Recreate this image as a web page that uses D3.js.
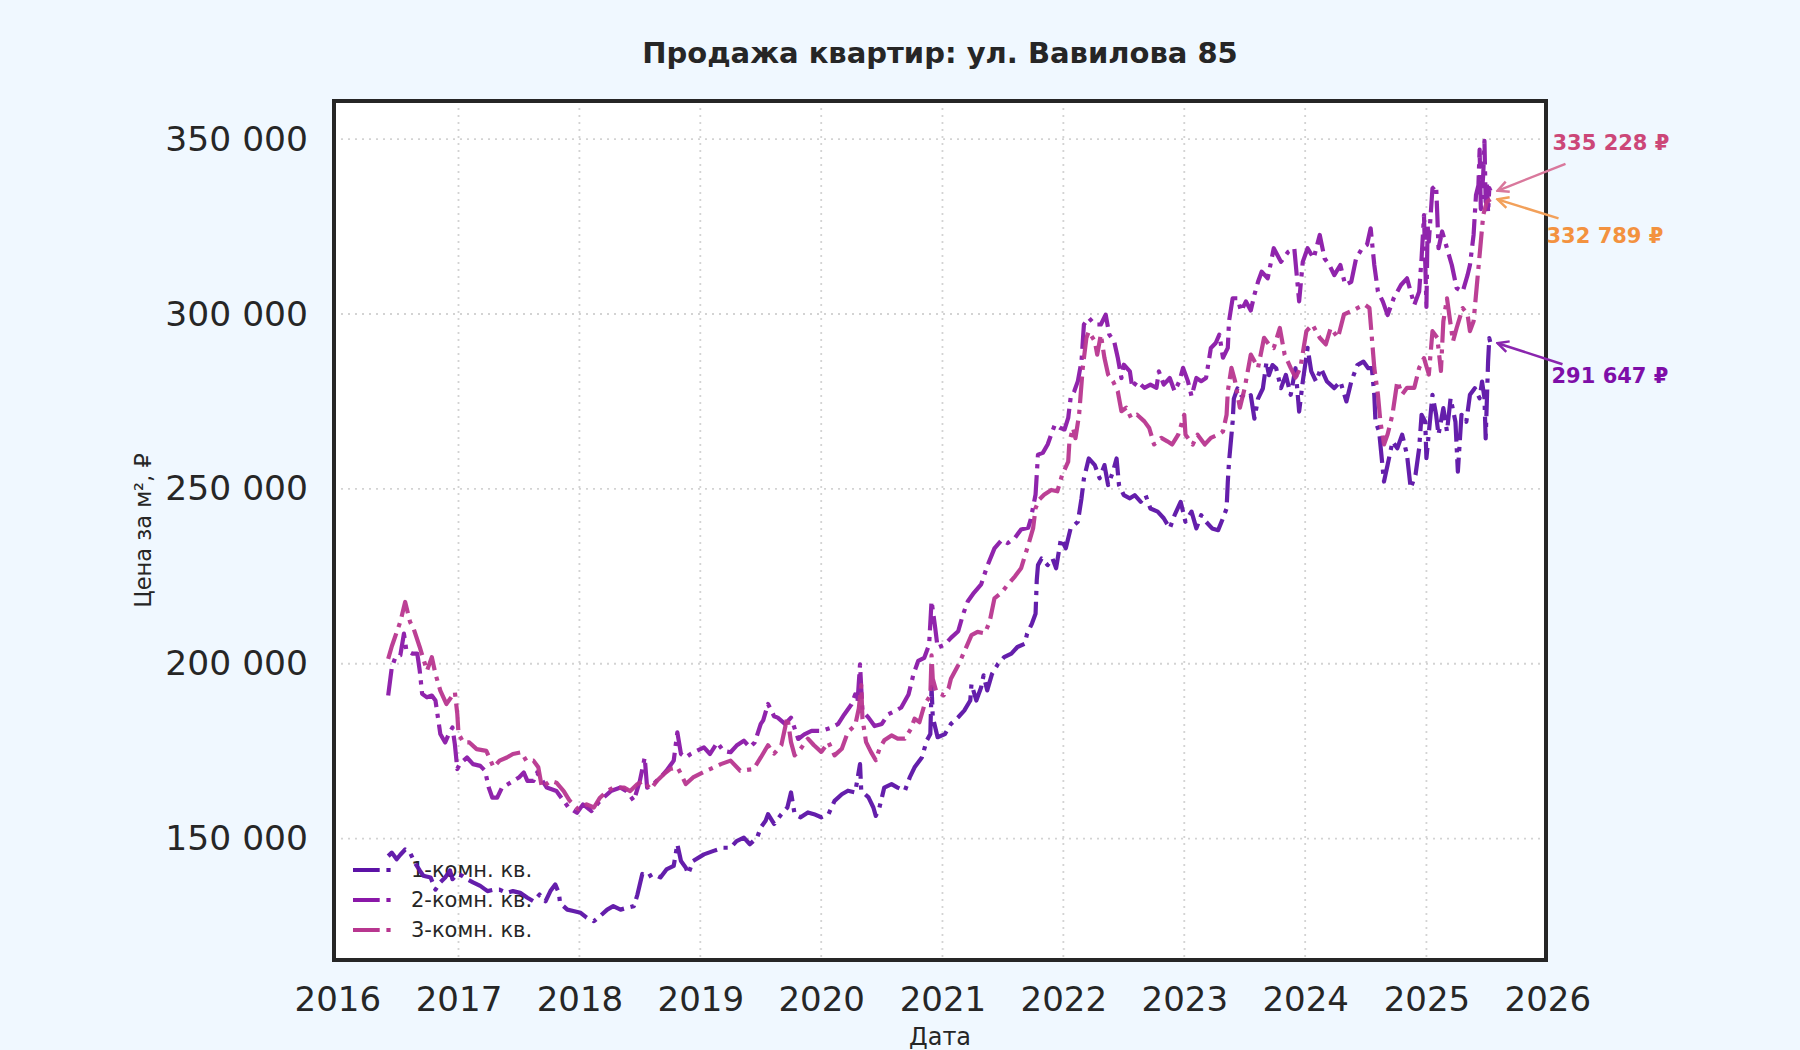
<!DOCTYPE html>
<html>
<head>
<meta charset="utf-8">
<script src="https://cdn.jsdelivr.net/npm/d3@7"></script>
<style>
  html, body { margin: 0; padding: 0; background: #f0f8ff; }
  text { font-family: "DejaVu Sans", sans-serif; }
</style>
</head>
<body>
<script>

// [decimal year, price per m2]
var room1 = [
  [2016.42,145000],[2016.45,146000],[2016.49,144100],[2016.52,145400],[2016.56,146900],[2016.60,146000],[2016.64,143100],
  [2016.68,140900],[2016.71,139400],[2016.77,138900],[2016.81,135400],[2016.85,137500],[2016.89,138900],[2016.93,140900],
  [2016.95,138400],[2016.99,139900],[2017.03,139400],[2017.07,138400],[2017.12,137500],[2017.18,136500],[2017.24,135000],
  [2017.29,135400],[2017.34,135400],[2017.40,134500],[2017.45,135000],[2017.51,134500],[2017.57,133100],[2017.62,132100],
  [2017.67,134000],[2017.72,132100],[2017.76,135000],[2017.80,136900],[2017.83,134500],[2017.84,131600],[2017.90,129700],
  [2017.95,129300],[2018.01,128800],[2018.06,127400],[2018.12,126400],[2018.17,127800],[2018.23,129700],[2018.28,130700],
  [2018.34,129700],[2018.39,130200],[2018.45,130700],[2018.48,134000],[2018.52,139900],[2018.56,138900],[2018.61,139900],
  [2018.67,138900],[2018.72,141200],[2018.78,142200],[2018.81,148400],[2018.84,143600],[2018.88,141700],[2018.90,139900],
  [2018.94,143600],[2019.03,145500],[2019.11,146500],[2019.19,147400],[2019.25,147400],[2019.30,149300],[2019.36,150300],
  [2019.41,148400],[2019.47,150300],[2019.50,153200],[2019.54,155100],[2019.56,157000],[2019.61,154200],[2019.67,157000],
  [2019.72,158900],[2019.75,163200],[2019.78,157000],[2019.83,156100],[2019.89,157500],[2019.94,157000],[2020.00,156100],
  [2020.06,157000],[2020.11,160800],[2020.17,162700],[2020.22,163700],[2020.28,163200],[2020.32,171300],[2020.33,163700],
  [2020.39,161800],[2020.43,158900],[2020.45,156500],[2020.48,158900],[2020.52,164600],[2020.58,165600],[2020.63,164600],
  [2020.69,163700],[2020.73,167500],[2020.77,170400],[2020.83,173200],[2020.87,178000],[2020.90,179900],[2020.91,193300],
  [2020.92,184700],[2020.96,179000],[2021.02,179900],[2021.07,182800],[2021.13,184700],[2021.18,186600],[2021.23,189500],
  [2021.24,194200],[2021.28,189500],[2021.32,193300],[2021.34,196700],[2021.37,192400],[2021.41,197100],[2021.46,200000],
  [2021.51,201900],[2021.57,202900],[2021.62,204800],[2021.68,205700],[2021.70,208600],[2021.74,211500],[2021.77,214300],
  [2021.78,223900],[2021.79,228200],[2021.82,230100],[2021.87,228200],[2021.91,230100],[2021.94,227300],[2021.98,235800],
  [2022.02,233000],[2022.06,238700],[2022.12,240600],[2022.15,247300],[2022.17,253000],[2022.21,258700],[2022.26,256800],
  [2022.30,253000],[2022.34,256800],[2022.37,251100],[2022.41,254900],[2022.44,258700],[2022.46,251100],[2022.50,248200],
  [2022.55,247300],[2022.59,248200],[2022.64,246300],[2022.68,248200],[2022.72,244400],[2022.78,243500],[2022.83,241600],
  [2022.88,238700],[2022.92,242500],[2022.97,246300],[2023.01,240600],[2023.06,243500],[2023.10,238700],[2023.14,242500],
  [2023.18,240600],[2023.23,238700],[2023.28,238200],[2023.32,241600],[2023.35,244400],[2023.36,252000],[2023.37,257700],
  [2023.40,269200],[2023.41,275800],[2023.44,278700],[2023.47,276800],[2023.51,275800],[2023.55,276800],[2023.58,270100],
  [2023.61,275800],[2023.65,278700],[2023.68,286300],[2023.70,282500],[2023.73,285400],[2023.76,284500],[2023.80,278800],
  [2023.84,282600],[2023.88,276900],[2023.92,284500],[2023.95,272100],[2023.98,280700],[2024.02,290300],[2024.05,283600],
  [2024.09,280700],[2024.13,284500],[2024.18,280700],[2024.24,278800],[2024.29,280700],[2024.34,275000],[2024.38,280700],
  [2024.43,285400],[2024.48,286400],[2024.52,284500],[2024.55,284500],[2024.57,276900],[2024.58,269200],[2024.61,266400],
  [2024.65,252100],[2024.68,256900],[2024.72,263500],[2024.76,261600],[2024.80,265500],[2024.84,259700],[2024.87,250200],
  [2024.91,254000],[2024.94,261600],[2024.96,271200],[2024.99,269200],[2025.00,258800],[2025.05,276900],[2025.08,271200],
  [2025.10,265500],[2025.14,273100],[2025.17,266400],[2025.20,275900],[2025.24,269200],[2025.26,254900],[2025.29,271200],
  [2025.33,269200],[2025.36,276900],[2025.40,278800],[2025.44,275900],[2025.46,280700],[2025.48,275900],[2025.49,264400],
  [2025.51,286400],[2025.52,293100],[2025.53,291647]
]

var room2 = [
  [2016.42,190900],[2016.45,199000],[2016.48,201900],[2016.52,202400],[2016.55,208600],[2016.57,203800],[2016.62,202900],
  [2016.66,202900],[2016.68,198100],[2016.70,191400],[2016.74,190400],[2016.78,190900],[2016.81,189500],[2016.83,184700],
  [2016.85,179900],[2016.89,177500],[2016.92,179900],[2016.95,181800],[2016.97,177000],[2016.99,169900],[2017.01,171300],
  [2017.07,173200],[2017.12,171300],[2017.18,170800],[2017.22,169400],[2017.25,164600],[2017.28,161700],[2017.32,161700],
  [2017.36,164600],[2017.43,166000],[2017.50,167500],[2017.54,168900],[2017.57,166500],[2017.62,166500],[2017.65,168900],
  [2017.73,164600],[2017.81,163600],[2017.87,160800],[2017.91,158900],[2017.98,157400],[2018.03,159800],[2018.10,157900],
  [2018.17,160800],[2018.26,163600],[2018.34,164600],[2018.39,163600],[2018.45,160800],[2018.50,166500],[2018.54,173200],
  [2018.56,164600],[2018.61,165600],[2018.67,167500],[2018.72,169400],[2018.78,172300],[2018.81,180400],[2018.84,174200],
  [2018.88,173200],[2018.92,174200],[2018.97,175100],[2019.03,176100],[2019.08,174200],[2019.14,177500],[2019.19,175100],
  [2019.25,174700],[2019.30,176600],[2019.36,178000],[2019.41,176100],[2019.45,177500],[2019.50,182800],[2019.52,183800],
  [2019.56,188500],[2019.61,185000],[2019.64,184600],[2019.70,182800],[2019.75,184600],[2019.81,178500],[2019.86,179800],
  [2019.92,180800],[2020.00,180800],[2020.08,181700],[2020.14,182800],[2020.19,185500],[2020.25,188400],[2020.28,191200],
  [2020.30,189300],[2020.32,199800],[2020.34,186500],[2020.39,184600],[2020.44,182200],[2020.50,182800],[2020.55,185500],
  [2020.61,186500],[2020.66,187500],[2020.72,191200],[2020.76,196900],[2020.80,200800],[2020.85,201700],[2020.89,205500],
  [2020.91,217900],[2020.94,210300],[2020.96,204600],[2021.02,205500],[2021.07,207400],[2021.13,209300],[2021.17,214100],
  [2021.21,217900],[2021.26,220300],[2021.32,222700],[2021.37,227900],[2021.43,233000],[2021.49,235400],[2021.54,234500],
  [2021.60,236000],[2021.65,238400],[2021.71,238900],[2021.73,241300],[2021.77,248400],[2021.79,259800],[2021.83,260300],
  [2021.87,262700],[2021.90,265600],[2021.93,268400],[2021.97,267500],[2022.01,267000],[2022.04,270300],[2022.06,276000],
  [2022.09,277900],[2022.12,280800],[2022.15,286500],[2022.17,297000],[2022.21,298900],[2022.26,297000],[2022.31,297000],
  [2022.35,299800],[2022.38,294100],[2022.42,292200],[2022.45,287500],[2022.48,281700],[2022.50,285500],[2022.55,283600],
  [2022.57,278900],[2022.61,280800],[2022.67,278900],[2022.72,279800],[2022.77,278900],[2022.79,283600],[2022.83,279800],
  [2022.88,281700],[2022.92,277900],[2022.96,280800],[2022.99,284600],[2023.03,280800],[2023.06,276500],[2023.10,281700],
  [2023.14,280800],[2023.18,281700],[2023.22,290300],[2023.26,291700],[2023.29,294100],[2023.32,287500],[2023.36,290300],
  [2023.37,297900],[2023.40,304500],[2023.44,304500],[2023.47,300800],[2023.51,303600],[2023.55,301000],[2023.58,305500],
  [2023.61,309200],[2023.64,312100],[2023.69,310200],[2023.74,318800],[2023.80,314900],[2023.86,317800],[2023.91,318800],
  [2023.95,303600],[2023.98,314900],[2024.02,318800],[2024.07,315900],[2024.12,322600],[2024.16,315900],[2024.20,314000],
  [2024.24,311100],[2024.29,314000],[2024.33,308300],[2024.38,309200],[2024.42,315900],[2024.47,318800],[2024.51,319800],
  [2024.54,324500],[2024.57,314000],[2024.60,306400],[2024.64,303600],[2024.68,299700],[2024.73,304500],[2024.79,308300],
  [2024.84,310200],[2024.90,302600],[2024.94,306400],[2024.96,315900],[2024.98,328300],[2025.00,302000],[2025.01,325400],
  [2025.02,320700],[2025.05,335900],[2025.08,336800],[2025.09,328300],[2025.10,318800],[2025.13,323600],[2025.17,318800],
  [2025.21,314000],[2025.25,307400],[2025.30,306400],[2025.34,311100],[2025.36,314000],[2025.39,322600],[2025.41,334000],
  [2025.43,336800],[2025.44,347000],[2025.45,330000],[2025.47,340000],[2025.48,349500],[2025.49,332000],[2025.50,338000],
  [2025.51,329000],[2025.52,336000],[2025.53,335228]
]

var room3 = [
  [2016.42,201400],[2016.45,205000],[2016.48,208000],[2016.52,212000],[2016.56,217660],[2016.60,212000],[2016.63,210000],
  [2016.68,204800],[2016.74,198000],[2016.78,201900],[2016.81,197100],[2016.85,192300],[2016.90,188500],[2016.97,191900],
  [2016.99,185700],[2017.00,180000],[2017.04,177500],[2017.09,177500],[2017.15,175600],[2017.23,175100],[2017.29,170400],
  [2017.34,172300],[2017.40,173200],[2017.45,174200],[2017.52,174700],[2017.56,172300],[2017.62,172300],[2017.66,170400],
  [2017.69,164600],[2017.76,166500],[2017.81,166000],[2017.87,163600],[2017.92,160800],[2017.99,158400],[2018.06,159800],
  [2018.12,158900],[2018.17,161700],[2018.23,163600],[2018.28,164600],[2018.37,164600],[2018.42,163600],[2018.48,165600],
  [2018.53,166500],[2018.59,164100],[2018.64,166500],[2018.70,168500],[2018.75,169900],[2018.81,170400],[2018.84,168500],
  [2018.88,165600],[2018.94,167500],[2019.05,169400],[2019.17,171300],[2019.25,172300],[2019.33,169400],[2019.44,169900],
  [2019.50,173200],[2019.56,176700],[2019.61,174300],[2019.67,176700],[2019.72,184800],[2019.75,177600],[2019.78,173800],
  [2019.83,175700],[2019.89,178600],[2019.94,176700],[2020.00,174800],[2020.06,177600],[2020.11,173800],[2020.17,175700],
  [2020.22,180500],[2020.28,182400],[2020.31,187200],[2020.33,193900],[2020.34,184300],[2020.37,177600],[2020.41,174800],
  [2020.45,172400],[2020.48,175700],[2020.52,178100],[2020.58,179500],[2020.63,178600],[2020.69,178600],[2020.74,181400],
  [2020.77,184300],[2020.81,183300],[2020.85,188100],[2020.90,191000],[2020.91,202400],[2020.92,195700],[2020.95,191900],
  [2021.01,191000],[2021.05,192900],[2021.07,195700],[2021.13,199600],[2021.18,203400],[2021.24,208200],[2021.29,209100],
  [2021.35,208700],[2021.39,212000],[2021.43,218700],[2021.49,220400],[2021.54,222600],[2021.60,225000],[2021.65,227300],
  [2021.71,234000],[2021.75,238800],[2021.77,244500],[2021.80,246900],[2021.84,248300],[2021.90,249700],[2021.95,249300],
  [2021.99,254000],[2022.04,257800],[2022.05,263500],[2022.08,267400],[2022.10,264500],[2022.13,271200],[2022.16,284500],
  [2022.19,293100],[2022.21,295000],[2022.26,292200],[2022.28,288400],[2022.31,294100],[2022.34,287400],[2022.37,282700],
  [2022.41,280800],[2022.45,277900],[2022.48,272200],[2022.52,273200],[2022.56,270300],[2022.61,271200],[2022.67,269300],
  [2022.71,267400],[2022.75,262700],[2022.81,264600],[2022.86,263600],[2022.90,262700],[2022.95,265500],[2023.00,271200],
  [2023.01,265500],[2023.07,262700],[2023.11,265500],[2023.17,262700],[2023.22,264600],[2023.28,265500],[2023.32,266400],
  [2023.35,271200],[2023.36,277900],[2023.39,284600],[2023.42,280800],[2023.46,273200],[2023.50,278900],[2023.55,288400],
  [2023.61,284600],[2023.66,293200],[2023.70,291300],[2023.74,290300],[2023.79,296000],[2023.83,288400],[2023.88,284600],
  [2023.92,281800],[2023.96,284600],[2024.01,295100],[2024.06,297000],[2024.12,293200],[2024.17,291300],[2024.21,296000],
  [2024.27,293200],[2024.32,299900],[2024.38,300800],[2024.43,301700],[2024.49,302700],[2024.53,301700],[2024.55,293200],
  [2024.57,284600],[2024.60,277000],[2024.62,269300],[2024.65,262700],[2024.68,265600],[2024.72,271300],[2024.76,280800],
  [2024.80,277000],[2024.84,278900],[2024.90,278900],[2024.94,284600],[2024.98,287400],[2025.02,282700],[2025.05,295100],
  [2025.09,293200],[2025.12,283700],[2025.14,297900],[2025.17,304500],[2025.20,297000],[2025.22,292200],[2025.25,296000],
  [2025.30,301700],[2025.34,299900],[2025.36,295100],[2025.39,297900],[2025.42,309300],[2025.45,320700],[2025.47,328300],
  [2025.50,332100],[2025.53,332789]
]

var seriesNames = ["1-комн. кв.", "2-комн. кв.", "3-комн. кв."]
var seriesColors = ["#5c12a6", "#8a18a8", "#b8368f"]
var yearTicks = [2016, 2017, 2018, 2019, 2020, 2021, 2022, 2023, 2024, 2025, 2026]
var priceTicks = [150000, 200000, 250000, 300000, 350000]

// last-value callouts: text, colours, offsets from the last point
var callouts = [
  {s: 1, text: "335 228 ₽", color: "#cc4778", arrow: "#d9789c", tx: 55, ty: -48, ax: 68, ay: -27},
  {s: 2, text: "332 789 ₽", color: "#f3923f", arrow: "#f2a05a", tx: 49, ty: 36, ax: 61, ay: 19},
  {s: 0, text: "291 647 ₽", color: "#7e0ea8", arrow: "#8a25ae", tx: 54, ty: 32, ax: 65, ay: 21}
]

function toDate(t) {
  var y = Math.floor(t)
  var a = new Date(y, 0, 1), b = new Date(y + 1, 0, 1)
  return new Date(+a + (t - y) * (b - a))
}

var W = 1800, H = 1050
var plotL = 334, plotR = 1546, plotT = 101, plotB = 960

var svg = d3.select("body").append("svg")
  .attr("width", W)
  .attr("height", H)

svg.append("rect").attr("width", W).attr("height", H).attr("fill", "#f0f8ff")

var x = d3.scaleTime()
  .domain([toDate(2015.973), toDate(2025.989)])
  .range([plotL, plotR])

var y = d3.scaleLinear()
  .domain([115300, 360900])
  .range([plotB, plotT])

var fmt = d3.formatLocale({decimal: ",", thousands: " ", grouping: [3], currency: ["", ""]}).format(",d")

svg.append("rect")
  .attr("x", plotL).attr("y", plotT)
  .attr("width", plotR - plotL).attr("height", plotB - plotT)
  .attr("fill", "#ffffff")

// grid
var grid = svg.append("g")
grid.selectAll(".vg")
  .data(yearTicks.slice(1, -1))
  .enter().append("line")
  .attr("x1", function(d) { return x(toDate(d)) })
  .attr("x2", function(d) { return x(toDate(d)) })
  .attr("y1", plotT).attr("y2", plotB)
  .attr("stroke", "#d3d3d3").attr("stroke-width", 1.8)
  .attr("stroke-dasharray", "2 5")

grid.selectAll(".hg")
  .data(priceTicks)
  .enter().append("line")
  .attr("x1", plotL).attr("x2", plotR)
  .attr("y1", function(d) { return y(d) })
  .attr("y2", function(d) { return y(d) })
  .attr("stroke", "#d3d3d3").attr("stroke-width", 1.8)
  .attr("stroke-dasharray", "2 5")

// axes
var xAxis = svg.append("g")
  .attr("transform", "translate(0," + plotB + ")")
  .call(d3.axisBottom(x).tickValues(yearTicks.map(toDate)).tickFormat(d3.timeFormat("%Y")).tickSize(0).tickPadding(27))
xAxis.select(".domain").remove()
xAxis.selectAll("text").attr("font-size", 34).attr("fill", "#262626").attr("font-family", "DejaVu Sans")

var yAxis = svg.append("g")
  .attr("transform", "translate(" + plotL + ",0)")
  .call(d3.axisLeft(y).tickValues(priceTicks).tickFormat(fmt).tickSize(0).tickPadding(26))
yAxis.select(".domain").remove()
yAxis.selectAll("text").attr("font-size", 34.5).attr("fill", "#262626").attr("font-family", "DejaVu Sans")

// legend
var legend = svg.append("g").attr("transform", "translate(353,870)")
var item = legend.selectAll("g")
  .data(seriesNames)
  .enter().append("g")
  .attr("transform", function(d, i) { return "translate(0," + i * 30 + ")" })
item.append("line")
  .attr("x1", 0).attr("x2", 40)
  .attr("stroke", function(d, i) { return seriesColors[i] })
  .attr("stroke-width", 4.2)
  .attr("stroke-dasharray", "26.7 6.7 4.2 6.7")
item.append("text")
  .attr("x", 58).attr("dy", "0.35em")
  .attr("font-size", 21).attr("fill", "#262626")
  .text(function(d) { return d })

// lines
var line = d3.line()
  .x(function(d) { return x(toDate(d[0])) })
  .y(function(d) { return y(d[1]) })

var allSeries = [room1, room2, room3]
svg.append("g").selectAll("path")
  .data(allSeries)
  .enter().append("path")
  .attr("d", line)
  .attr("fill", "none")
  .attr("stroke", function(d, i) { return seriesColors[i] })
  .attr("stroke-width", 4.2)
  .attr("stroke-linejoin", "round")
  .attr("stroke-dasharray", "26.7 6.7 4.2 6.7")
  .attr("opacity", 0.95)

// frame
svg.append("rect")
  .attr("x", plotL).attr("y", plotT)
  .attr("width", plotR - plotL).attr("height", plotB - plotT)
  .attr("fill", "none").attr("stroke", "#262626").attr("stroke-width", 4)

// callouts
var defs = svg.append("defs")
callouts.forEach(function(c, i) {
  defs.append("marker")
    .attr("id", "arr" + i)
    .attr("viewBox", "-12 -7 14 14")
    .attr("markerWidth", 14).attr("markerHeight", 14)
    .attr("markerUnits", "userSpaceOnUse")
    .attr("orient", "auto")
    .append("path")
    .attr("d", "M-11,-5.5 L0,0 L-11,5.5")
    .attr("fill", "none").attr("stroke", c.arrow).attr("stroke-width", 2.5)

  var last = allSeries[c.s][allSeries[c.s].length - 1]
  var px = x(toDate(last[0])) + 7, py = y(last[1])

  svg.append("line")
    .attr("x1", px + c.ax).attr("y1", py + c.ay)
    .attr("x2", px).attr("y2", py)
    .attr("stroke", c.arrow).attr("stroke-width", 2.5)
    .attr("marker-end", "url(#arr" + i + ")")

  svg.append("text")
    .attr("x", px + c.tx).attr("y", py + c.ty)
    .attr("dy", "0.35em")
    .attr("font-size", 21).attr("font-weight", "bold")
    .attr("fill", c.color)
    .text(c.text)
})

// titles
svg.append("text")
  .attr("x", (plotL + plotR) / 2).attr("y", 53)
  .attr("dy", "0.35em").attr("text-anchor", "middle")
  .attr("font-size", 29).attr("font-weight", "bold").attr("fill", "#262626")
  .text("Продажа квартир: ул. Вавилова 85")

svg.append("text")
  .attr("x", (plotL + plotR) / 2).attr("y", 1037)
  .attr("dy", "0.35em").attr("text-anchor", "middle")
  .attr("font-size", 24).attr("fill", "#262626")
  .text("Дата")

svg.append("text")
  .attr("transform", "translate(143," + (plotT + plotB) / 2 + ") rotate(-90)")
  .attr("dy", "0.35em").attr("text-anchor", "middle")
  .attr("font-size", 22.5).attr("fill", "#262626")
  .text("Цена за м², ₽")

</script>
</body>
</html>
